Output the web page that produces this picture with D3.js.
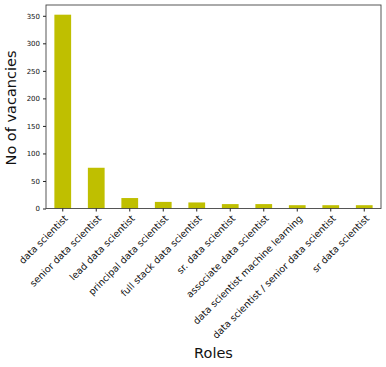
<!DOCTYPE html>
<html>
<head>
<meta charset="utf-8">
<script src="https://cdn.jsdelivr.net/npm/d3@7"></script>
<style>
  body { margin: 0; background: #fff; }
  svg text { font-family: "DejaVu Sans", sans-serif; }
</style>
</head>
<body>
<svg id="chart"></svg>
<script>
// Roles and vacancy counts
const roles = [
  "data scientist",
  "senior data scientist",
  "lead data scientist",
  "principal data scientist",
  "full stack data scientist",
  "sr. data scientist",
  "associate data scientist",
  "data scientist machine learning",
  "data scientist / senior data scientist",
  "sr data scientist"
];
const vacancies = [352, 74, 19, 12, 11, 8, 8, 6, 6, 6];
const yTicks = [0, 50, 100, 150, 200, 250, 300, 350];

const width = 386, height = 367;
const margin = {top: 5, right: 5, bottom: 158.5, left: 46};
const w = width - margin.left - margin.right;
const h = height - margin.top - margin.bottom;

const svg = d3.select('#chart')
    .attr('width', width)
    .attr('height', height);

const chart = svg.append('g')
    .attr('transform', `translate(${margin.left},${margin.top})`);

const xScale = d3.scaleBand()
    .domain(roles)
    .range([0, w])
    .paddingInner(0.5)
    .paddingOuter(0.25);

const yScale = d3.scaleLinear()
    .domain([0, d3.max(vacancies) * 1.05])
    .range([h, 0]);

const data = roles.map((r, i) => ({role: r, value: vacancies[i]}));

// bars
chart.selectAll('.bar')
    .data(data)
  .join('rect')
    .attr('class', 'bar')
    .attr('x', d => xScale(d.role))
    .attr('width', xScale.bandwidth())
    .attr('y', d => yScale(d.value))
    .attr('height', d => h - yScale(d.value))
    .attr('fill', '#bfbf00');

// frame
chart.append('rect')
    .attr('width', w)
    .attr('height', h)
    .attr('fill', 'none')
    .attr('stroke', '#444')
    .attr('stroke-width', 0.9);

// y axis
const yAxis = d3.axisLeft(yScale).tickValues(yTicks).tickSize(3).tickPadding(3);
const yAxisG = chart.append('g').call(yAxis);
yAxisG.select('.domain').remove();
yAxisG.selectAll('line').attr('stroke', '#222');
yAxisG.selectAll('text')
    .style('font-size', '7px')
    .attr('fill', '#111');

// x axis
const xAxis = d3.axisBottom(xScale).tickSize(3).tickPadding(0);
const xAxisG = chart.append('g')
    .attr('transform', `translate(0,${h})`)
    .call(xAxis);
xAxisG.select('.domain').remove();
xAxisG.selectAll('line').attr('stroke', '#222');
xAxisG.selectAll('text')
    .style('font-size', '9.5px')
    .style('text-anchor', 'end')
    .attr('fill', '#111')
    .attr('y', null)
    .attr('transform', 'translate(1,6) rotate(-45)')
    .attr('dy', '0.7em');

// axis titles
chart.append('text')
    .attr('x', w / 2)
    .attr('y', h + 149)
    .style('text-anchor', 'middle')
    .style('font-size', '14.5px')
    .attr('fill', '#111')
    .text('Roles');

chart.append('text')
    .attr('transform', 'rotate(-90)')
    .attr('x', -103)
    .attr('y', -30)
    .style('text-anchor', 'middle')
    .style('font-size', '14.5px')
    .attr('fill', '#111')
    .text('No of vacancies');
</script>
</body>
</html>
